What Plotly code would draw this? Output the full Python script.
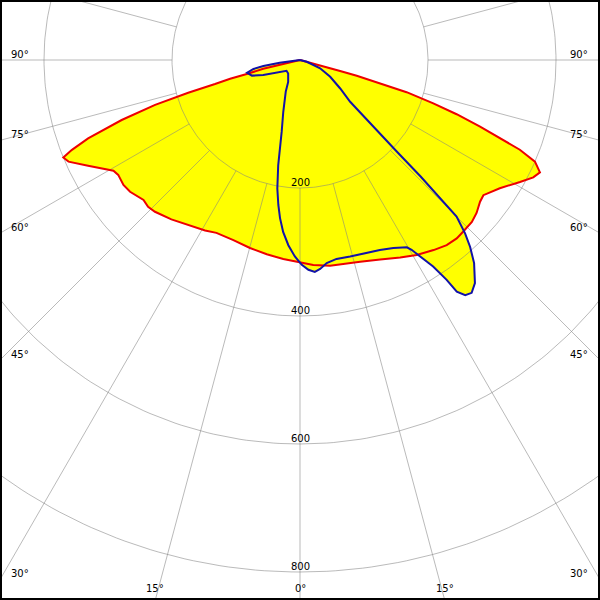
import math
import plotly.graph_objects as go

# ---------------- data (gamma angle in degrees, intensity in cd) ----------------
RED_ANGLE = [-90, -80, -76.5, -75.3, -75.0, -74.2, -73.7, -72.8, -71.4, -69.7, -68.5, -67.6,
             -66.3, -63.5, -60.8, -59.3, -57.7, -54.7, -52.2, -48.2, -46.0, -43.7, -38.9,
             -34.1, -29.1, -25.8, -20.3, -14.9, -9.7, -4.8, 0, 3.7, 8.3, 12.9, 16.6, 21.9,
             26.9, 30.9, 35.1, 38.4, 41.3, 43.6, 46.7, 49.1, 51.8, 53.6, 55.9, 57.3, 61.0,
             63.3, 64.9, 66.6, 67.8, 68.6, 69.7, 70.9, 72.0, 73.2, 73.8, 74.5, 74.6, 75.5,
             80, 90]
RED_CD = [0, 0, 59, 86, 113, 138, 182, 237, 294, 353, 383, 400,
          395, 370, 349, 339, 336, 338, 336, 328, 330, 328, 320,
          311, 305, 300, 300, 304, 308, 312, 316, 321, 325, 326, 329, 336,
          346, 355, 363, 369, 371, 370, 369, 365, 358, 356, 365, 371, 393,
          408, 414, 400, 371, 336, 300, 259, 219, 174, 130, 92, 65, 27,
          0, 0]

BLUE_ANGLE = [-90, -82.3, -80.7, -79.1, -76.5, -72.0, -67.8, -61.4, -51.2, -41.3, -28.3,
              -24.3, -17.9, -14.3, -12.8, -11.7, -10.0, -8.5, -7.2, -5.6, -3.6, -1.5, 0.5,
              2.3, 4.0, 5.5, 7.5, 10.4, 14.3, 17.1, 22.8, 26.4, 29.7, 30.45, 31.4, 32.8,
              33.7, 34.1, 35.1, 36.4, 38.1, 40.6, 42.3, 43.6, 45.0, 45.5, 46.0, 46.6,
              47.6, 49.2, 50.2, 54.7, 60.9, 67.5, 75.8, 90]
BLUE_CD = [0, 32, 58, 74, 85, 79, 62, 41, 27, 28, 39,
           54, 85, 116, 141, 168, 204, 229, 249, 270, 290, 307, 320,
           328, 332, 328, 320, 316, 317, 318, 322, 328, 337, 344, 360, 384,
           413, 437, 449, 452, 443, 418, 395, 374, 346, 306, 262, 208,
           162, 124, 102, 77, 54, 34, 11, 0]

RING_VALUES = [200, 400, 600, 800]
RING_LABELS = ["200", "400", "600", "800"]
SPOKE_ANGLES = [-120, -105, -90, -75, -60, -45, -30, -15, 0, 15, 30, 45, 60, 75, 90, 105, 120]
TICK_ANGLES = [90, 75, 60, 45, 30, 15, 0]
TICK_LABELS = ["90°", "75°", "60°", "45°", "30°", "15°", "0°"]

# ---------------- geometry helpers ----------------
PX = 1.5625                      # cd per pixel
X_MIN, X_MAX = -300 * PX, 300 * PX
Y_MIN, Y_MAX = -540 * PX, 60 * PX


def to_xy(angles, values):
    xs = [v * math.sin(math.radians(a)) for a, v in zip(angles, values)]
    ys = [-v * math.cos(math.radians(a)) for a, v in zip(angles, values)]
    return xs, ys


fig = go.Figure()

rx, ry = to_xy(RED_ANGLE, RED_CD)
bx, by = to_xy(BLUE_ANGLE, BLUE_CD)

YELLOW = "#ffff00"
GRID = "rgba(130,130,130,0.55)"

# yellow fills
for xs, ys in ((rx, ry), (bx, by)):
    fig.add_trace(go.Scatter(x=xs, y=ys, mode="lines", fill="toself", fillcolor=YELLOW,
                             line=dict(width=0, color=YELLOW), hoverinfo="skip",
                             showlegend=False))

# grid rings
ts = [i for i in range(0, 361)]
for rv in RING_VALUES:
    cx, cy = to_xy(ts, [rv] * len(ts))
    fig.add_trace(go.Scatter(x=cx, y=cy, mode="lines", line=dict(color=GRID, width=1),
                             hoverinfo="skip", showlegend=False))

# spokes (from the 200 ring outwards)
for a in SPOKE_ANGLES:
    sx, sy = to_xy([a, a], [RING_VALUES[0], 1400])
    fig.add_trace(go.Scatter(x=sx, y=sy, mode="lines", line=dict(color=GRID, width=1),
                             hoverinfo="skip", showlegend=False))

# curves
fig.add_trace(go.Scatter(x=rx, y=ry, mode="lines", line=dict(color="#ee0000", width=2),
                         hoverinfo="skip", showlegend=False))
fig.add_trace(go.Scatter(x=bx, y=by, mode="lines", line=dict(color="#1212a8", width=2),
                         hoverinfo="skip", showlegend=False))

FONT = dict(family="DejaVu Sans", size=10, color="#000000")
annotations = []

# ring labels
for rv, lab in zip(RING_VALUES, RING_LABELS):
    annotations.append(dict(x=0, y=-rv + 6 * PX, text=lab, showarrow=False, font=FONT,
                            xanchor="center", yanchor="middle"))

# angle labels, placed where each spoke leaves the frame
for a, lab in zip(TICK_ANGLES, TICK_LABELS):
    for side in (-1, 1):
        if a == 0 and side == 1:
            continue
        s = math.sin(math.radians(a))
        c = math.cos(math.radians(a))
        if s > 1e-9:
            t = X_MAX / s
            ey = -t * c
        else:
            ey = -1e9
        if ey > Y_MIN + 4 * PX:
            if side < 0:
                annotations.append(dict(x=X_MIN + 9 * PX, y=ey + 6 * PX, text=lab,
                                        showarrow=False, font=FONT, xanchor="left",
                                        yanchor="middle"))
            else:
                annotations.append(dict(x=X_MAX - 10 * PX, y=ey + 6 * PX, text=lab,
                                        showarrow=False, font=FONT, xanchor="right",
                                        yanchor="middle"))
        else:
            ex = side * (-Y_MIN) * s / c
            annotations.append(dict(x=ex, y=Y_MIN + 12 * PX, text=lab, showarrow=False,
                                    font=FONT, xanchor="center", yanchor="middle"))

fig.update_layout(
    width=600, height=600,
    margin=dict(l=0, r=0, t=0, b=0),
    paper_bgcolor="white", plot_bgcolor="white",
    xaxis=dict(range=[X_MIN, X_MAX], visible=False, fixedrange=True),
    yaxis=dict(range=[Y_MIN, Y_MAX], visible=False, fixedrange=True),
    annotations=annotations,
    shapes=[dict(type="rect", xref="paper", yref="paper", x0=0, y0=0, x1=1, y1=1,
                 line=dict(color="black", width=4), layer="above")],
    showlegend=False,
)

fig.write_html("out.html", config={"displayModeBar": False},
               post_script="document.body.style.margin='0';document.body.style.overflow='hidden';")
